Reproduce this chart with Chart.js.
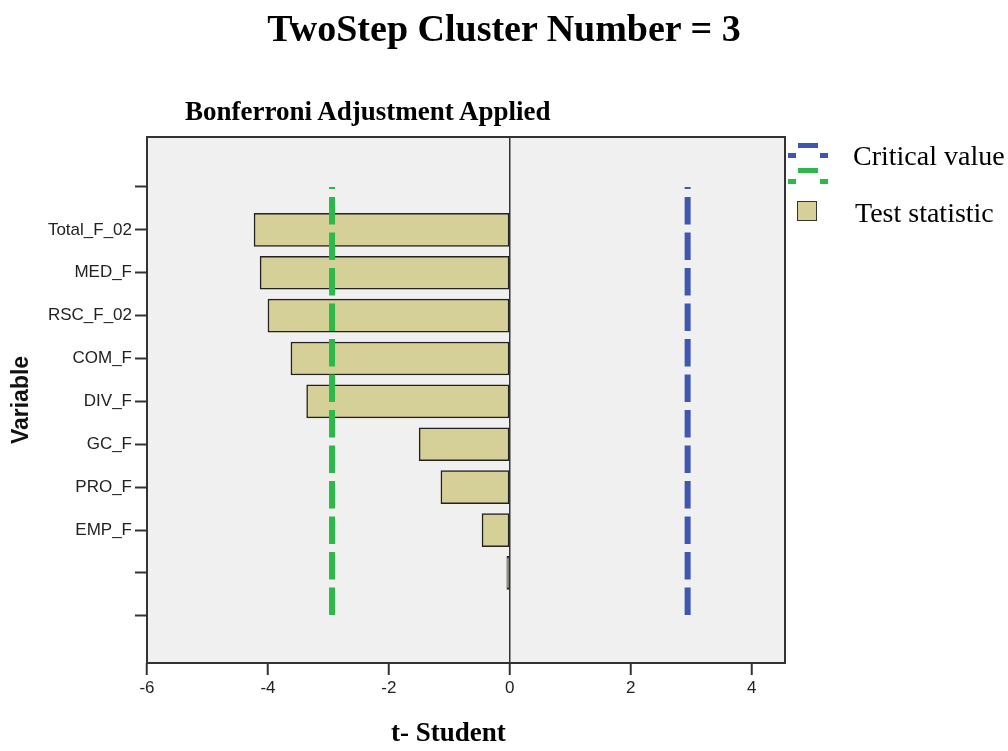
<!DOCTYPE html>
<html>
<head>
<meta charset="utf-8">
<script src="https://cdn.jsdelivr.net/npm/chart.js@4/dist/chart.umd.min.js"></script>
<style>
  html, body { margin: 0; padding: 0; background: #ffffff; }
  #wrap { position: relative; width: 1008px; height: 751px; overflow: hidden; }
  canvas { position: absolute; left: 0; top: 0; }
  .txt { position: absolute; white-space: nowrap; color: #000; font-family: "Liberation Serif", "Times New Roman", serif; }
  .ico { position: absolute; }
</style>
</head>
<body>
<div id="wrap">
  <canvas id="c" width="1008" height="751"></canvas>
  <div class="txt" id="title" style="left:0;width:1008px;text-align:center;top:5px;font-size:38px;font-weight:bold;line-height:46px;">TwoStep Cluster Number = 3</div>
  <div class="txt" id="subtitle" style="left:185px;top:95px;font-size:27px;font-weight:bold;line-height:32px;">Bonferroni Adjustment Applied</div>
  <div class="txt" id="xtitle" style="left:391px;top:716px;font-size:27px;font-weight:bold;line-height:32px;">t- Student</div>
  <!-- legend -->
  <div class="ico" style="left:798px;top:143px;width:20px;height:5px;background:#3f57b0;"></div>
  <div class="ico" style="left:788px;top:153px;width:8px;height:5px;background:#3f57b0;"></div>
  <div class="ico" style="left:820px;top:153px;width:8px;height:5px;background:#3f57b0;"></div>
  <div class="ico" style="left:798px;top:168px;width:20px;height:5px;background:#2db84a;"></div>
  <div class="ico" style="left:788px;top:179px;width:8px;height:5px;background:#2db84a;"></div>
  <div class="ico" style="left:820px;top:179px;width:8px;height:5px;background:#2db84a;"></div>
  <div class="txt" style="left:853px;top:139px;font-size:28px;line-height:34px;">Critical value</div>
  <div class="ico" style="left:797px;top:201px;width:18px;height:18px;background:#d4d098;border:1px solid #333;"></div>
  <div class="txt" style="left:855px;top:196px;font-size:28px;line-height:34px;">Test statistic</div>
</div>
<script>
// ---- data ----
const yLabels = ['', 'Total_F_02', 'MED_F', 'RSC_F_02', 'COM_F', 'DIV_F', 'GC_F', 'PRO_F', 'EMP_F', '', ''];
const testStatistic = [null, -4.23, -4.13, -4.00, -3.62, -3.36, -1.50, -1.14, -0.46, -0.05, null];
const criticalValue = 2.94;
const xTicks = [-6, -4, -2, 0, 2, 4];

const barPoints = [];
testStatistic.forEach((v, i) => { if (v !== null) barPoints.push({ x: v, y: i }); });

const firstIdx = 0, lastIdx = yLabels.length - 1;

const plotBox = {
  id: 'plotBox',
  beforeDraw(chart) {
    const { ctx, chartArea: a } = chart;
    ctx.save();
    ctx.fillStyle = '#f0f0f0';
    ctx.fillRect(a.left, a.top, a.right - a.left, a.bottom - a.top);
    ctx.restore();
  },
  afterDraw(chart) {
    const { ctx, chartArea: a } = chart;
    ctx.save();
    ctx.strokeStyle = '#333';
    ctx.lineWidth = 2;
    ctx.strokeRect(a.left, a.top, a.right - a.left, a.bottom - a.top);
    ctx.restore();
  }
};

new Chart(document.getElementById('c'), {
  type: 'bar',
  data: {
    datasets: [
      {
        type: 'line',
        label: 'Critical value (lower)',
        data: [{ x: -criticalValue, y: firstIdx }, { x: -criticalValue, y: lastIdx }],
        borderColor: '#2db84a',
        borderWidth: 6,
        borderDash: [27.5, 8],
        borderDashOffset: 25.5,
        borderCapStyle: 'butt',
        pointRadius: 0,
        tension: 0,
        fill: false,
        indexAxis: 'y',
        order: 0
      },
      {
        type: 'line',
        label: 'Critical value (upper)',
        data: [{ x: criticalValue, y: firstIdx }, { x: criticalValue, y: lastIdx }],
        borderColor: '#3f57b0',
        borderWidth: 6,
        borderDash: [27.5, 8],
        borderDashOffset: 25.5,
        borderCapStyle: 'butt',
        pointRadius: 0,
        tension: 0,
        fill: false,
        indexAxis: 'y',
        order: 0
      },
      {
        type: 'bar',
        label: 'Test statistic',
        data: barPoints,
        backgroundColor: '#d4d098',
        borderColor: '#222',
        borderWidth: 1.5,
        borderSkipped: false,
        barThickness: 33,
        indexAxis: 'y',
        order: 1
      }
    ]
  },
  options: {
    indexAxis: 'y',
    responsive: false,
    animation: false,
    devicePixelRatio: 1,
    layout: { padding: { top: 137, right: 223, left: 0, bottom: 0 } },
    plugins: {
      legend: { display: false },
      tooltip: { enabled: false },
      title: { display: false }
    },
    scales: {
      x: {
        type: 'linear',
        min: -6,
        max: 4.55,
        offset: false,
        afterBuildTicks: (s) => { s.ticks = xTicks.map(v => ({ value: v })); },
        afterFit: (s) => { s.height = 88; },
        border: { display: false },
        grid: {
          offset: false,
          drawOnChartArea: true,
          drawTicks: true,
          tickLength: 12,
          tickWidth: 2,
          tickColor: '#333',
          lineWidth: 1.5,
          color: (c) => (c.tick && c.tick.value === 0 ? '#333' : 'rgba(0,0,0,0)')
        },
        ticks: {
          padding: 3,
          color: '#222',
          font: { family: 'Liberation Sans', size: 17 },
          maxRotation: 0,
          callback: (v) => String(v)
        }
      },
      y: {
        type: 'linear',
        reverse: true,
        min: -1.165,
        max: 11.1,
        offset: false,
        afterBuildTicks: (s) => { s.ticks = yLabels.map((_, i) => ({ value: i })); },
        afterFit: (s) => { s.width = 147; },
        border: { display: false },
        grid: {
          offset: false,
          drawOnChartArea: false,
          drawTicks: true,
          tickLength: 12,
          tickWidth: 2,
          tickColor: '#333'
        },
        ticks: {
          padding: 3,
          color: '#222',
          font: { family: 'Liberation Sans', size: 17 },
          callback: (v) => (yLabels[v] !== undefined ? yLabels[v] : '')
        },
        title: {
          display: true,
          text: 'Variable',
          color: '#111',
          font: { family: 'Liberation Sans', size: 23, weight: 'bold' },
          padding: { top: 8, bottom: 0 }
        }
      }
    }
  },
  plugins: [plotBox]
});
</script>
</body>
</html>
